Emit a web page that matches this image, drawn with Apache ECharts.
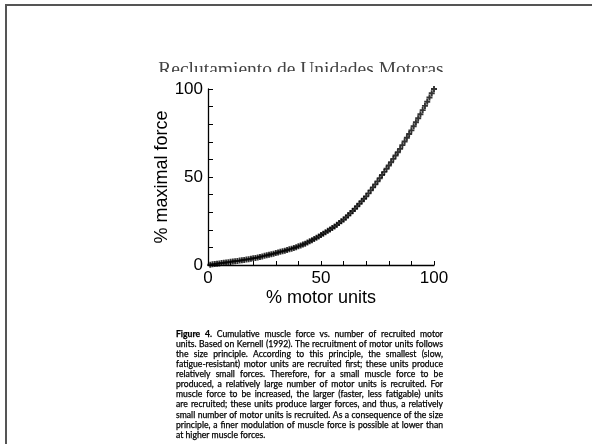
<!DOCTYPE html>
<html>
<head>
<meta charset="utf-8">
<script src="https://cdn.jsdelivr.net/npm/echarts@6/dist/echarts.min.js"></script>
<style>
html, body { margin: 0; padding: 0; background: #fff; }
#chart-container { width: 592px; height: 444px; }
</style>
</head>
<body>
<div id="chart-container"></div>
<script>
// % motor units recruited
const motorUnits = [
  1, 2, 3, 4, 5, 6, 7, 8, 9, 10,
  11, 12, 13, 14, 15, 16, 17, 18, 19, 20,
  21, 22, 23, 24, 25, 26, 27, 28, 29, 30,
  31, 32, 33, 34, 35, 36, 37, 38, 39, 40,
  41, 42, 43, 44, 45, 46, 47, 48, 49, 50,
  51, 52, 53, 54, 55, 56, 57, 58, 59, 60,
  61, 62, 63, 64, 65, 66, 67, 68, 69, 70,
  71, 72, 73, 74, 75, 76, 77, 78, 79, 80,
  81, 82, 83, 84, 85, 86, 87, 88, 89, 90,
  91, 92, 93, 94, 95, 96, 97, 98, 99, 100
]
// % maximal force
const maxForce = [
  0.2, 0.4, 0.5, 0.7, 0.9, 1.1, 1.3, 1.4, 1.6, 1.8,
  2.0, 2.2, 2.3, 2.5, 2.7, 2.9, 3.1, 3.3, 3.5, 3.8,
  4.0, 4.3, 4.6, 4.9, 5.2, 5.5, 5.8, 6.1, 6.4, 6.8,
  7.1, 7.5, 7.8, 8.1, 8.5, 8.9, 9.3, 9.7, 10.1, 10.6,
  11.1, 11.6, 12.1, 12.8, 13.5, 14.1, 14.8, 15.5, 16.2, 17.0,
  17.8, 18.6, 19.4, 20.2, 21.0, 21.9, 22.8, 23.8, 24.8, 25.8,
  27.0, 28.2, 29.4, 30.7, 32.0, 33.4, 34.8, 36.2, 37.6, 39.0,
  40.7, 42.4, 44.1, 45.8, 47.5, 49.3, 51.1, 52.9, 54.7, 56.5,
  58.4, 60.3, 62.2, 64.1, 66.0, 68.1, 70.2, 72.3, 74.4, 76.5,
  78.8, 81.1, 83.4, 85.7, 88.0, 90.4, 92.8, 95.2, 97.6, 100
]
const tickLabels = [0, 50, 100]

const slideTitle = 'Reclutamiento de Unidades Motoras'
const captionLines = [
  'Figure 4. Cumulative muscle force vs. number of recruited motor',
  'units. Based on Kernell (1992). The recruitment of motor units follows',
  'the size principle. According to this principle, the smallest (slow,',
  'fatigue-resistant) motor units are recruited first; these units produce',
  'relatively small forces. Therefore, for a small muscle force to be',
  'produced, a relatively large number of motor units is recruited. For',
  'muscle force to be increased, the larger (faster, less fatigable) units',
  'are recruited; these units produce larger forces, and thus, a relatively',
  'small number of motor units is recruited. As a consequence of the size',
  'principle, a finer modulation of muscle force is possible at lower than',
  'at higher muscle forces.'
]

const points = motorUnits.map((x, i) => [x, maxForce[i]])

// justified caption, one text element per word
const capFamily = 'Lato, "Noto Sans", sans-serif'
const capLeft = 176
const capRight = 443
const capTop = 334
const capPitch = 10.1
const ctx = document.createElement('canvas').getContext('2d')
const fontOf = (li, wi, size) => (li === 0 && wi < 2 ? 'bold ' : '') + size + 'px ' + capFamily
const lineWidth = (line, li, size) => {
  let w = 0
  line.split(' ').forEach((word, wi) => { ctx.font = fontOf(li, wi, size); w += ctx.measureText(word + ' ').width })
  return w
}
// pick a size so that the widest line still fits with normal spaces
let widest = 0
captionLines.forEach((line, li) => { widest = Math.max(widest, lineWidth(line, li, 10)) })
const capSize = Math.floor(10 * (capRight - capLeft) / widest * 100) / 100

const capGraphics = []
captionLines.forEach((line, li) => {
  const words = line.split(' ')
  const fonts = words.map((w, wi) => fontOf(li, wi, capSize))
  const widths = words.map((w, wi) => { ctx.font = fonts[wi]; return ctx.measureText(w).width })
  ctx.font = capSize + 'px ' + capFamily
  const space = ctx.measureText(' ').width
  const total = widths.reduce((a, b) => a + b, 0)
  const last = li === captionLines.length - 1
  const gap = last ? space : (capRight - capLeft - total) / (words.length - 1)
  let x = capLeft
  words.forEach((w, wi) => {
    capGraphics.push({
      type: 'text',
      x: x,
      y: capTop + li * capPitch,
      style: {
        text: w,
        font: fonts[wi],
        fill: '#000',
        stroke: '#000',
        lineWidth: 0.25,
        align: 'left',
        verticalAlign: 'middle',
        textAlign: 'left',
        textVerticalAlign: 'middle'
      }
    })
    x += widths[wi] + gap
  })
})

const dom = document.getElementById('chart-container')
const myChart = echarts.init(dom, null, { renderer: 'canvas' })

const axisFont = '"Liberation Sans", Arial, sans-serif'

const options = {
  animation: false,
  backgroundColor: '#fff',
  grid: { left: 208, right: 158, top: 89, bottom: 179 },
  xAxis: {
    type: 'value',
    min: 0,
    max: 100,
    interval: 10,
    name: '% motor units',
    nameLocation: 'middle',
    nameGap: 24,
    nameTextStyle: { fontFamily: axisFont, fontSize: 18, color: '#000' },
    axisLine: { lineStyle: { color: '#000', width: 1.3 } },
    axisTick: { inside: true, length: 4, lineStyle: { color: '#000', width: 1 } },
    axisLabel: {
      margin: 5,
      fontFamily: axisFont,
      fontSize: 17,
      color: '#000',
      formatter: v => (tickLabels.includes(v) ? String(v) : '')
    },
    splitLine: { show: false }
  },
  yAxis: {
    type: 'value',
    min: 0,
    max: 100,
    interval: 10,
    name: '% maximal force',
    nameLocation: 'middle',
    nameGap: 32,
    nameTextStyle: { fontFamily: axisFont, fontSize: 18, color: '#000' },
    axisLine: { show: true, lineStyle: { color: '#000', width: 1.3 } },
    axisTick: { show: true, inside: true, length: 5, lineStyle: { color: '#000', width: 1 } },
    axisLabel: {
      margin: 5,
      fontFamily: axisFont,
      fontSize: 17,
      color: '#000',
      formatter: v => (tickLabels.includes(v) ? String(v) : '')
    },
    splitLine: { show: false }
  },
  graphic: [
    // slide frame
    { type: 'rect', shape: { x: 5, y: 4, width: 600, height: 2 }, style: { fill: '#555' } },
    { type: 'rect', shape: { x: 5, y: 4, width: 2, height: 460 }, style: { fill: '#555' } },
    {
      type: 'text',
      z: 0,
      x: 301,
      y: 69.5,
      style: {
        text: slideTitle,
        font: '19.5px "Liberation Serif", "Times New Roman", serif',
        fill: '#444',
        align: 'center',
        verticalAlign: 'middle',
        textAlign: 'center',
        textVerticalAlign: 'middle'
      }
    },
    // pasted figure hides lower half of the title
    { type: 'rect', z: 1, shape: { x: 130, y: 72, width: 340, height: 9 }, style: { fill: '#fff' } },
    ...capGraphics
  ],
  series: [
    {
      type: 'scatter',
      data: points,
      symbol: 'path://M3.4,0H6.6V3.4H10V6.6H6.6V10H3.4V6.6H0V3.4H3.4Z',
      symbolSize: 6,
      itemStyle: { color: '#000' },
      silent: true
    }
  ]
}

myChart.setOption(options)
window.addEventListener('resize', myChart.resize)
</script>
</body>
</html>
